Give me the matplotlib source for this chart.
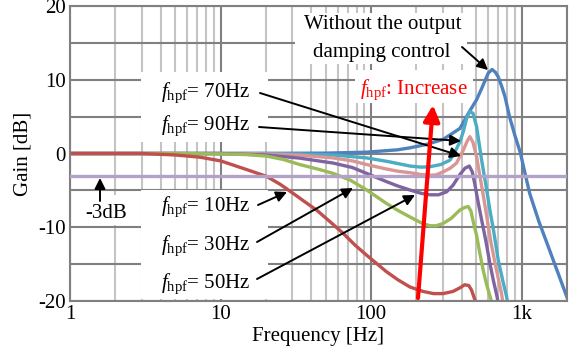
import matplotlib
matplotlib.use('Agg')
import matplotlib.pyplot as plt
from matplotlib.patches import Rectangle
from matplotlib.transforms import Affine2D
from matplotlib.ticker import FixedLocator, NullFormatter

# Gain curves: frequency [Hz], gain [dB]
f_nodamp = [1, 10, 50, 93.5, 150, 181, 230, 300, 389, 453, 502, 542, 600, 636, 670, 698, 740, 775, 830, 900, 980, 1050, 1130, 1300, 1500, 1750, 2000, 2200]
g_nodamp = [0, 0, 0.05, 0.18, 0.5, 0.77, 1.2, 1.9, 3.4, 5.8, 7.3, 8.8, 10.9, 11.4, 11.0, 10.4, 9.0, 7.7, 5.0, 2.5, 0.1, -2.6, -5.4, -9.2, -12.6, -16.3, -19.5, -22]

f_90 = [1, 20, 40, 56, 93.5, 130, 181, 215, 245, 290, 334, 360, 389, 410, 431, 453, 475, 502, 542, 580, 615, 650, 698, 750, 794, 850]
g_90 = [0, 0, -0.1, -0.2, -0.6, -1.1, -1.7, -1.85, -1.8, -1.5, -0.9, 0.2, 1.6, 3.0, 4.77, 5.7, 5.45, 3.63, -0.9, -4.4, -7.66, -10.4, -14.4, -17.3, -19.4, -23]

f_70 = [1, 15, 33, 56, 75, 93.5, 126, 150, 181, 215, 245, 270, 300, 335, 369, 410, 435, 453, 475, 502, 525, 553, 590, 627, 680, 735, 800]
g_70 = [0, 0, -0.2, -0.6, -1.0, -1.5, -2.1, -2.4, -2.6, -2.85, -2.95, -2.9, -2.5, -2.0, -1.3, 0.47, 1.7, 2.28, 1.5, -0.44, -2.8, -5.4, -8.9, -12.2, -15.8, -19.0, -24]

f_50 = [1, 10, 20, 33.6, 56, 75, 93.5, 126, 150, 181, 215, 245, 280, 317, 350, 389, 420, 449, 470, 490, 515, 542, 580, 615, 650, 686, 750]
g_50 = [0, 0, -0.2, -0.63, -1.3, -1.9, -2.7, -3.8, -4.4, -4.95, -5.4, -5.6, -5.6, -5.2, -4.3, -2.85, -2.0, -1.7, -2.5, -4.3, -6.7, -9.0, -12.0, -14.9, -17.3, -19.4, -24]

f_30 = [1, 5, 10, 15, 20.2, 26, 33.6, 44, 56, 72.5, 93.5, 126, 150, 181, 215, 245, 270, 300, 340, 389, 420, 442, 460, 480, 503, 527, 555, 582, 627, 700]
g_30 = [0, 0, -0.05, -0.15, -0.36, -0.8, -1.5, -2.1, -2.7, -3.6, -4.95, -6.75, -7.7, -8.6, -9.4, -9.8, -9.8, -9.5, -8.8, -7.66, -7.3, -7.2, -7.8, -9.5, -11.2, -13.5, -15.8, -17.6, -19.9, -24]

f_10 = [1, 3, 5, 7.3, 10, 12.1, 15, 20.2, 25, 30.3, 36, 43.6, 53, 65, 78, 93.5, 110, 126, 150, 181, 221, 260, 300, 350, 390, 418, 445, 464, 490, 520]
g_10 = [0, 0, -0.2, -0.5, -1.0, -1.56, -2.2, -3.1, -4.2, -5.4, -6.5, -7.7, -9.2, -10.8, -12.4, -13.8, -15.0, -16.0, -17.1, -18.1, -18.7, -19.0, -19.0, -18.7, -18.2, -17.8, -17.9, -18.5, -19.9, -22]

level_3db = -3

curves = [
    (f_nodamp, g_nodamp, '#4f81bd'),
    (f_90, g_90, '#4bacc6'),
    (f_70, g_70, '#d99694'),
    (f_50, g_50, '#8064a2'),
    (f_30, g_30, '#9bbb59'),
    (f_10, g_10, '#c0504d'),
]

W, H = 572, 349
plt.rcParams['font.family'] = ['Liberation Serif', 'DejaVu Serif']
plt.rcParams['mathtext.fontset'] = 'custom'
plt.rcParams['mathtext.rm'] = 'Liberation Serif'
plt.rcParams['mathtext.it'] = 'Liberation Serif:italic'
plt.rcParams['font.size'] = 15
plt.rcParams['axes.unicode_minus'] = False

fig = plt.figure(figsize=(W / 100, H / 100), dpi=100)
ax = fig.add_axes([70 / W, 1 - 301 / H, 497 / W, 295 / H])
pix = Affine2D().scale(1 / 100) + fig.dpi_scale_trans  # figure pixels, origin bottom-left


def P(x, y):
    # pixel position measured from the top-left of the image
    return (x, H - y)


ax.set_xscale('log')
ax.set_xlim(1, 2000)
ax.set_ylim(-20, 20)
ax.set_yticks([-20, -10, 0, 10, 20])
ax.yaxis.set_minor_locator(FixedLocator([-15, -5, 5, 15]))
ax.set_xticks([1, 10, 100, 1000])
ax.set_xticklabels(['1', '10', '100', '1k'])
ax.xaxis.set_minor_locator(FixedLocator([m * 10 ** d for d in range(4) for m in range(2, 10)]))
ax.xaxis.set_minor_formatter(NullFormatter())
ax.tick_params(which='both', length=0)
ax.tick_params(axis='y', pad=3)
ax.tick_params(axis='x', pad=3)
ax.set_axisbelow(True)
ax.grid(True, which='major', color='#808080', lw=1.5)
ax.grid(True, which='minor', axis='y', color='#808080', lw=1.5)
ax.grid(True, which='minor', axis='x', color='#c4c4c4', lw=1.5)
for s in ax.spines.values():
    s.set_color('#808080')
    s.set_linewidth(1.5)

ax.set_xlabel('Frequency [Hz]', labelpad=2)
ax.set_ylabel('Gain [dB]', labelpad=4)

# white boxes behind the labels
for x0, y0, x1, y1 in [(141, 72, 268, 142), (141, 190, 268, 299), (295, 13, 467, 64),
                       (355, 70, 473, 103), (83, 195, 132, 225)]:
    ax.add_patch(Rectangle((x0, H - y1), x1 - x0, y1 - y0, transform=pix,
                           facecolor='white', edgecolor='none', zorder=1, clip_on=False))

for f, g, c in curves:
    ax.plot(f, g, color=c, lw=2.4, zorder=2, solid_capstyle='round', solid_joinstyle='round')

ax.axhline(level_3db, color='#b3a2c7', lw=2.4, zorder=3)

# labels and arrows (pixel positions)
arw = dict(arrowstyle='-|>', color='black', lw=1.4, mutation_scale=16, shrinkA=0, shrinkB=0)
labels = [('70Hz', (161, 97), (260, 93), (461, 156)),
          ('90Hz', (161, 130), (259, 127), (461, 141)),
          ('10Hz', (161, 211), (258, 205), (287, 192)),
          ('30Hz', (161, 250), (257, 242), (353, 188)),
          ('50Hz', (161, 288), (257, 279), (415, 195))]
for txt, pos, tail, tip in labels:
    fig.text(pos[0] / W, 1 - pos[1] / H, r'$f_{\mathrm{hpf}}$= ' + txt, ha='left', va='baseline', zorder=5)
    ax.annotate('', xy=P(*tip), xycoords='figure pixels', xytext=P(*tail),
                textcoords='figure pixels', arrowprops=arw, zorder=5)

fig.text(383 / W, 1 - 25 / H, 'Without the output', ha='center', va='center')
fig.text(382 / W, 1 - 52 / H, 'damping control', ha='center', va='center')
ax.annotate('', xy=P(488, 70), xycoords='figure pixels', xytext=P(462, 47),
            textcoords='figure pixels', arrowprops=arw, zorder=5)

fig.text(414 / W, 1 - 90 / H, r'$f_{\mathrm{hpf}}$: Increase', color='red', ha='center', va='center')
ax.annotate('', xy=P(433, 105), xycoords='figure pixels', xytext=P(418, 298),
            textcoords='figure pixels', zorder=6,
            arrowprops=dict(arrowstyle='-|>', color='red', lw=3, mutation_scale=24, shrinkA=0, shrinkB=0))

fig.text(106 / W, 1 - 213 / H, '-3dB', ha='center', va='center')
ax.annotate('', xy=P(100, 178), xycoords='figure pixels', xytext=P(100, 201),
            textcoords='figure pixels', arrowprops=arw, zorder=5)

fig.savefig('out.png', dpi=100)
